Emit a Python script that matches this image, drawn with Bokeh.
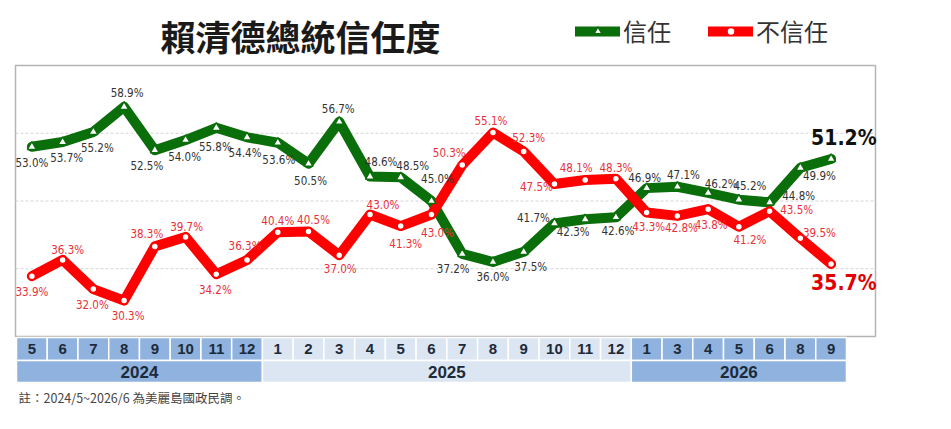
from bokeh.plotting import figure
from bokeh.models import ColumnDataSource, Range1d, Label, Legend, LegendItem
from bokeh.embed import file_html
from bokeh.resources import INLINE
from bokeh.core.properties import value

# ---------------- data ----------------
months = ["5", "6", "7", "8", "9", "10", "11", "12",
          "1", "2", "3", "4", "5", "6", "7", "8", "9", "10", "11", "12",
          "1", "3", "4", "5", "6", "8", "9"]
years = ["2024", "2025", "2026"]
year_counts = [8, 12, 7]
trust = [53.0, 53.7, 55.2, 58.9, 52.5, 54.0, 55.8, 54.4,
         53.6, 50.5, 56.7, 48.6, 48.5, 45.0, 37.2, 36.0, 37.5, 41.7, 42.3, 42.6,
         46.9, 47.1, 46.2, 45.2, 44.8, 49.9, 51.2]
distrust = [33.9, 36.3, 32.0, 30.3, 38.3, 39.7, 34.2, 36.3,
            40.4, 40.5, 37.0, 43.0, 41.3, 43.0, 50.3, 55.1, 52.3, 47.5, 48.1, 48.3,
            43.3, 42.8, 43.8, 41.2, 43.5, 39.5, 35.7]
y_min, y_max = 25, 65
y_grid_ticks = [35, 45, 55]
title_text = "賴清德總統信任度"
series_names = ["信任", "不信任"]
note_text = "註：2024/5~2026/6 為美麗島國政民調。"

# label offsets in pixels (layout only)
trust_dx = [0, 4, 4, 3, -8, -1, -1, -2, 1, 2, -1, 11, 12, 6, -9, 0, 7, -21, -12, 2, -2, 6, 13, 11, 29, 19]
trust_dy = [16, 16, 16, -14, 16, 17, 19, 16, 17, 17, -13, -15, -11, -22, 15, 15, 15, -5, 13, 14, -10, -12, -9, -14, -6, 8]
dist_dx = [0, 5, -1, 4, -8, 1, -1, -2, 0, 5, 1, 13, 5, 6, -13, -2, 5, -18, -9, 0, 2, 4, 3, 11, 27, 19]
dist_dy = [16, -10, 16, 15, -12, -10, 16, -14, -11, -11, 14, -10, 18, 18, -12, -12, -14, 3, -12, -11, 14, 12, 16, 13, -1, -5]

GREEN = "#0a6e0a"
RED = "#ff0000"
LABEL_FONT = value("DejaVu Sans Condensed, Liberation Sans Narrow, Liberation Sans")
CJK_NAME = "Noto Sans CJK TC"

# ---------------- geometry (pixels -> data) ----------------
W, H = 935, 413
CELL = 30.74                       # px per category
PXY = 6.775                        # px per percentage point
def xv(px):                        # pixel x -> category coordinate
    return -0.5 + (px - 16) / CELL
def yv(py):                        # pixel y -> value coordinate
    return y_min + (336 - py) / PXY

n = len(months)
xs = list(range(n))

p = figure(width=W, height=H, output_backend="svg", toolbar_location=None,
           x_range=Range1d(xv(0), xv(W)), y_range=Range1d(yv(H), yv(0)),
           x_axis_type=None, y_axis_type=None, title=None,
           min_border=0, min_border_left=0, min_border_right=0,
           min_border_top=0, min_border_bottom=0)
p.outline_line_color = None
p.grid.visible = False
p.background_fill_color = "white"
p.border_fill_color = "white"

# chart box and grid lines
bx0, bx1 = xv(15), xv(875)
p.quad(left=bx0, right=bx1, bottom=y_min, top=y_max, fill_color=None,
       line_color="#b4b4b4", line_width=1.5)
p.segment(x0=[bx0] * len(y_grid_ticks), x1=[bx1] * len(y_grid_ticks),
          y0=y_grid_ticks, y1=y_grid_ticks, line_color="#d4d4d4", line_width=1,
          line_dash="3 2")

src_t = ColumnDataSource(dict(x=xs, y=trust, lab=[f"{v:.1f}%" for v in trust]))
src_d = ColumnDataSource(dict(x=xs, y=distrust, lab=[f"{v:.1f}%" for v in distrust]))

gl = p.line("x", "y", source=src_t, line_width=10, color=GREEN, line_join="round", line_cap="round")
rl = p.line("x", "y", source=src_d, line_width=10, color=RED, line_join="round", line_cap="round")
gs = p.scatter("x", "y", source=src_t, marker="triangle", size=9, fill_color="white",
               line_color=GREEN, line_width=1.5)
rs = p.scatter("x", "y", source=src_d, marker="circle", size=7, fill_color="white",
               line_color=RED, line_width=1.5)

# regular labels (all but the latest month)
reg_t = ColumnDataSource(dict(x=xs[:-1], y=trust[:-1], lab=src_t.data["lab"][:-1],
                              dx=trust_dx, dy=trust_dy))
reg_d = ColumnDataSource(dict(x=xs[:-1], y=distrust[:-1], lab=src_d.data["lab"][:-1],
                              dx=dist_dx, dy=dist_dy))
p.text("x", "y", text="lab", source=reg_t, x_offset="dx", y_offset="dy",
       text_align="center", text_baseline="middle", text_font=LABEL_FONT,
       text_font_size="11.5px", text_color="#333333")
p.text("x", "y", text="lab", source=reg_d, x_offset="dx", y_offset="dy",
       text_align="center", text_baseline="middle", text_font=LABEL_FONT,
       text_font_size="11.5px", text_color="#e8303a")
# highlighted latest values
last_t = ColumnDataSource(dict(x=xs[-1:], y=trust[-1:], lab=src_t.data["lab"][-1:]))
last_d = ColumnDataSource(dict(x=xs[-1:], y=distrust[-1:], lab=src_d.data["lab"][-1:]))
p.text("x", "y", text="lab", source=last_t, x_offset=-20, y_offset=-21,
       text_align="left", text_baseline="middle", text_font=LABEL_FONT,
       text_font_size="21px", text_font_style="bold", text_color="#111111")
p.text("x", "y", text="lab", source=last_d, x_offset=-20, y_offset=19,
       text_align="left", text_baseline="middle", text_font=LABEL_FONT,
       text_font_size="21px", text_font_style="bold", text_color="#e00000")

# title
p.add_layout(Label(x=xv(160), y=yv(35), text=title_text,
                   text_font=CJK_NAME, text_font_size="35px", text_font_style="bold",
                   text_color="#1a1a1a", text_baseline="middle"))

# legend
legend = Legend(items=[LegendItem(label=series_names[0], renderers=[gl, gs]),
                       LegendItem(label=series_names[1], renderers=[rl, rs])],
                location=(575, 365), orientation="horizontal",
                glyph_width=45, glyph_height=20, label_standoff=3, spacing=37,
                padding=0, margin=0, border_line_alpha=0, background_fill_alpha=0,
                label_text_font=CJK_NAME, label_text_font_size="24px",
                label_text_color="#333333")
p.add_layout(legend)

# ---------------- category band ----------------
DARK = "#8fb3de"
LIGHT = "#dbe6f2"
year_colors = [DARK, LIGHT, DARK]
m_colors, yc, yw = [], [], []
start = 0
for yi, cnt in enumerate(year_counts):
    m_colors += [year_colors[yi]] * cnt
    yc.append(start + (cnt - 1) / 2)
    yw.append(cnt)
    start += cnt

m_y, m_h = yv(348.5), 23 / PXY
yr_y, yr_h = yv(371), 22 / PXY
msrc = ColumnDataSource(dict(x=xs, lab=months, c=m_colors))
ysrc = ColumnDataSource(dict(x=yc, w=yw, lab=years, c=year_colors))
p.rect("x", m_y, width=1, height=m_h, source=msrc, fill_color="c",
       line_color="white", line_width=1.5)
p.rect("x", yr_y, width="w", height=yr_h, source=ysrc, fill_color="c",
       line_color="white", line_width=1.5)
p.text("x", m_y, text="lab", source=msrc, text_align="center", text_baseline="middle",
       text_font=value("Liberation Sans"), text_font_size="15px", text_font_style="bold",
       text_color="#1c2a3a")
p.text("x", yr_y, text="lab", source=ysrc, text_align="center", text_baseline="middle",
       text_font=value("Liberation Sans"), text_font_size="17px", text_font_style="bold",
       text_color="#1c2a3a")

# footnote
p.add_layout(Label(x=xv(18), y=yv(397), text=note_text,
                   text_font=CJK_NAME, text_font_size="12.5px", text_color="#444444",
                   text_baseline="middle"))

open("out.html", "w").write(file_html(p, INLINE))
